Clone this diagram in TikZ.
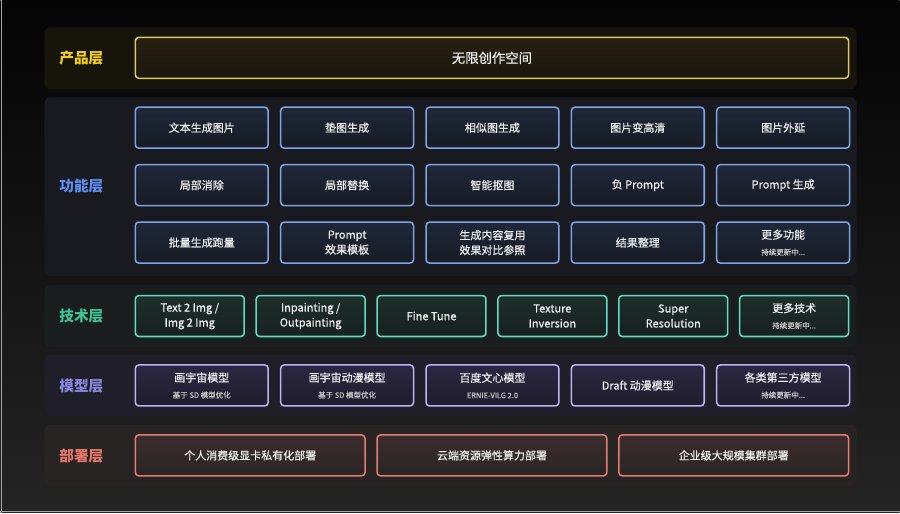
\documentclass[tikz,border=0pt]{standalone}
\usepackage{fontspec}
\setmainfont{Noto Sans CJK SC}
\newfontfamily\medfont{Noto Sans CJK SC}[FakeBold=0.7]
\usetikzlibrary{positioning}

% couleurs des couches
\definecolor{bgtop}{HTML}{040404}
\definecolor{bgbot}{HTML}{242424}
\definecolor{boxtext}{HTML}{EDEDED}
\definecolor{subgray}{HTML}{C4C4C4}
\definecolor{prodlabel}{HTML}{F7D10F}
\definecolor{prodband}{HTML}{17140C}
\definecolor{prodline}{HTML}{DFC763}
\definecolor{prodtop}{HTML}{262010}
\definecolor{prodbot}{HTML}{1A170E}
\definecolor{funclabel}{HTML}{5B8FF0}
\definecolor{funcband}{HTML}{181A20}
\definecolor{funcline}{HTML}{80A3E6}
\definecolor{functop}{HTML}{1F2739}
\definecolor{funcbot}{HTML}{171B24}
\definecolor{techlabel}{HTML}{3DC495}
\definecolor{techband}{HTML}{1A1E1E}
\definecolor{techline}{HTML}{5FDDBF}
\definecolor{techtop}{HTML}{1D2E2B}
\definecolor{techbot}{HTML}{172120}
\definecolor{modellabel}{HTML}{8B86E0}
\definecolor{modelband}{HTML}{201F29}
\definecolor{modelline}{HTML}{BDB3F2}
\definecolor{modeltop}{HTML}{2B2742}
\definecolor{modelbot}{HTML}{201D2D}
\definecolor{deplabel}{HTML}{E8786C}
\definecolor{depband}{HTML}{282424}
\definecolor{depline}{HTML}{E57D72}
\definecolor{deptop}{HTML}{3C2D2D}
\definecolor{depbot}{HTML}{2B2525}

\newcommand{\subline}[1]{{\fontsize{6.4}{8}\selectfont\color{subgray}#1}}

\tikzset{
	band/.style={rounded corners=5},
	tier/.style={font=\bfseries\fontsize{12.5}{14}\selectfont},
	cell/.style={draw, rounded corners=3, line width=1.3pt, minimum height=1.23cm,
		inner sep=1pt, align=center, text=boxtext, font=\medfont\fontsize{9.4}{12.8}\selectfont},
	pcell/.style={cell, draw=prodline, top color=prodtop, bottom color=prodbot,
		font=\medfont\fontsize{11.4}{14}\selectfont},
	fcell/.style={cell, draw=funcline, top color=functop, bottom color=funcbot, minimum width=3.99cm},
	tcell/.style={cell, draw=techline, top color=techtop, bottom color=techbot, minimum width=3.27cm},
	mcell/.style={cell, draw=modelline, top color=modeltop, bottom color=modelbot, minimum width=3.99cm},
	dcell/.style={cell, draw=depline, top color=deptop, bottom color=depbot, minimum width=6.9cm},
}

\begin{document}
\begin{tikzpicture}[x=0.03cm,y=-0.03cm]
	% fond
	\shade[top color=bgtop, bottom color=bgbot] (0,0) rectangle (900,513);
	\draw[gray!70, line width=0.6pt] (0.6,0) -- (0.6,513);
	\draw[gray!70, line width=0.8pt] (0,512) -- (900,512);

	% bandes des couches
	\fill[band, prodband] (44,27) rectangle (857,89);
	\fill[band, funcband] (44,97) rectangle (857,276);
	\fill[band, techband] (44,285) rectangle (857,347);
	\fill[band, modelband] (44,355) rectangle (857,416);
	\fill[band, depband] (44,425) rectangle (857,486);

	% titres des couches
	\node[tier, text=prodlabel] (lp) at (81,58) {产品层};
	\node[tier, text=funclabel] (lf) at (81,186) {功能层};
	\node[tier, text=techlabel] (lt) at (81,316) {技术层};
	\node[tier, text=modellabel] (lm) at (81,386) {模型层};
	\node[tier, text=deplabel] (ld) at (81,456) {部署层};

	% couche produit
	\node[pcell, minimum width=21.42cm] (prod) at (492,57.5) {无限创作空间};

	% couche fonctions : 3 lignes x 5 colonnes
	\foreach \txt [count=\i from 0] in {文本生成图片, 垫图生成, 相似图生成, 图片变高清, 图片外延,
		局部消除, 局部替换, 智能抠图, 负 Prompt, Prompt 生成,
		批量生成跑量, {Prompt\\效果模板}, {生成内容复用\\效果对比参照}, 结果整理,
		{更多功能\\[1pt]\subline{持续更新中...}}}{%
		\pgfmathsetmacro{\x}{201.5+145.5*mod(\i,5)}
		\pgfmathsetmacro{\y}{127.5+57.5*div(\i,5)}
		\node[fcell] (f\i) at (\x,\y) {\txt};
	}

	% couche technique : 6 colonnes
	\foreach \txt [count=\i from 0] in {{Text 2 Img /\\Img 2 Img}, {Inpainting /\\Outpainting},
		Fine Tune, {Texture\\Inversion}, {Super\\Resolution},
		{更多技术\\[1pt]\subline{持续更新中...}}}{%
		\pgfmathsetmacro{\x}{189.5+121*\i}
		\node[tcell] (t\i) at (\x,316) {\txt};
	}

	% couche modeles : 5 colonnes
	\foreach \txt [count=\i from 0] in {{画宇宙模型\\[1pt]\subline{基于 SD 模型优化}},
		{画宇宙动漫模型\\[1pt]\subline{基于 SD 模型优化}},
		{百度文心模型\\[1pt]\subline{ERNIE-VILG 2.0}}, Draft 动漫模型,
		{各类第三方模型\\[1pt]\subline{持续更新中...}}}{%
		\pgfmathsetmacro{\x}{201.5+145.5*\i}
		\node[mcell] (m\i) at (\x,385.5) {\txt};
	}

	% couche deploiement : 3 colonnes
	\foreach \txt [count=\i from 0] in {个人消费级显卡私有化部署, 云端资源弹性算力部署, 企业级大规模集群部署}{%
		\pgfmathsetmacro{\x}{250+242*\i}
		\node[dcell] (d\i) at (\x,455.5) {\txt};
	}
\end{tikzpicture}
\end{document}
